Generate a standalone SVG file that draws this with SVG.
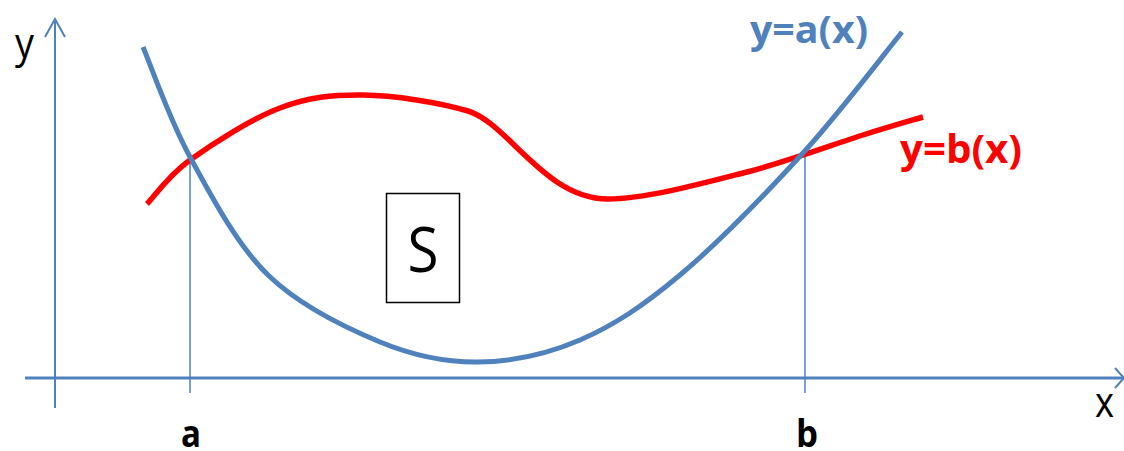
<svg xmlns="http://www.w3.org/2000/svg" width="1124" height="451" viewBox="0 0 1124 451">
<style>
.axis{stroke:#4F81BD;fill:none;stroke-width:2}
.guide{stroke:#4F81BD;fill:none;stroke-width:1.5}
.lbl{font-family:"Open Sans","Liberation Sans",sans-serif;fill:#000}
.bold{font-weight:bold}
</style>
<rect width="1124" height="451" fill="#fff"/>
<g id="connectors">
<line class="axis" x1="55" y1="408" x2="55" y2="20"/>
<polyline class="axis" points="45,37 55,19 65,37"/>
<line class="axis" x1="25" y1="378" x2="1123" y2="378" style="stroke-width:3"/>
<polyline class="axis" points="1115,368 1124,378 1115,388"/>
<line class="guide" x1="190" y1="158" x2="190" y2="393"/>
<line class="guide" x1="805" y1="153" x2="805" y2="393"/>
</g>
<g id="curve-b">
<path d="M147,204 C154.2,196.7 167.8,176 190,160 C212.2,144 251.2,118.8 280,108 C308.8,97.2 332.2,94.7 363,95 C393.8,95.3 440,102.5 468,111 C508,123 545,199 608,199 C646,199 705.3,182.7 747,172 C788.7,161.3 833.7,144.2 863,135 C892.3,125.8 913,120 923,117" fill="none" stroke="#FF0000" stroke-width="5.5"/>
<text class="lbl bold" x="900" y="163" font-size="40" style="fill:#FF0000" textLength="122" lengthAdjust="spacingAndGlyphs">y=b(x)</text>
</g>
<g id="curve-a">
<path d="M143,47 C150.8,65.3 169.2,119 190,157 C210.8,195 236.3,244.2 268,275 C299.7,305.8 345,327.5 380,342 C415,356.5 444.7,362.3 478,362 C511.3,361.7 546.3,354.5 580,340 C613.7,325.5 642.8,306.2 680,275 C717.2,243.8 766,193.5 803,153 C840,112.5 885.5,52.2 902,32" fill="none" stroke="#4F81BD" stroke-width="5"/>
<text class="lbl bold" x="750" y="43" font-size="38" style="fill:#4F81BD" textLength="118" lengthAdjust="spacingAndGlyphs">y=a(x)</text>
</g>
<g id="region-S">
<rect x="386.5" y="193.5" width="73" height="109" fill="#fff" stroke="#000" stroke-width="1.5"/>
<text class="lbl" x="423" y="272" font-size="62" text-anchor="middle" textLength="31" lengthAdjust="spacingAndGlyphs">S</text>
</g>
<g id="labels">
<text class="lbl" x="15" y="58" font-size="42" textLength="19" lengthAdjust="spacingAndGlyphs">y</text>
<text class="lbl" x="1095" y="417" font-size="42" textLength="19" lengthAdjust="spacingAndGlyphs">x</text>
<text class="lbl bold" x="181" y="447" font-size="38" textLength="20" lengthAdjust="spacingAndGlyphs">a</text>
<text class="lbl bold" x="796" y="447" font-size="38" textLength="22" lengthAdjust="spacingAndGlyphs">b</text>
</g>
</svg>
